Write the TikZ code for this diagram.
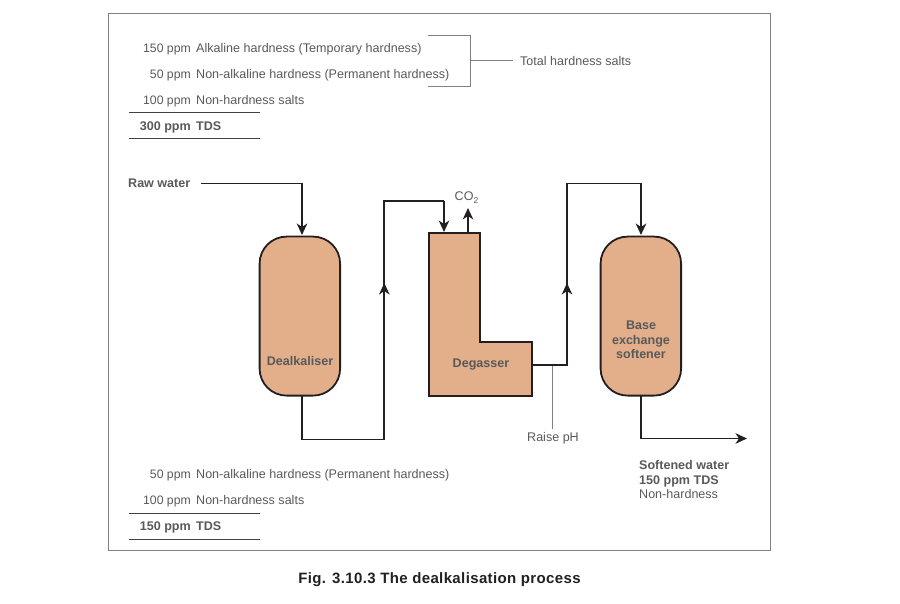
\documentclass[tikz,border=0pt]{standalone}
\usepackage{fontspec}
\setmainfont{Liberation Sans}
\usetikzlibrary{arrows.meta,calc}
\definecolor{vesselfill}{HTML}{E3AF8A}
\definecolor{inkdark}{HTML}{231F20}
\definecolor{txt}{HTML}{58595B}
\definecolor{framegray}{HTML}{808080}
\newcommand{\fsz}{\fontsize{12.55}{15}\selectfont}
\tikzset{
  lab/.style={inner sep=0pt,text=txt,font=\fsz},
  rlab/.style={lab,anchor=base east,font=\fontsize{12.25}{15}\selectfont},
  llab/.style={lab,anchor=base west},
  blab/.style={lab,font=\fsz\bfseries},
  brlab/.style={blab,anchor=base east},
  bllab/.style={blab,anchor=base west},
  vessel/.style={draw=inkdark,fill=vesselfill,line width=1.8pt,rounded corners=27pt,minimum width=80.5pt,minimum height=159pt,inner sep=0pt},
  flow/.style={draw=inkdark,line width=1.9pt,line join=miter},
  tip/.style={-{Stealth[length=11.5pt,width=10.5pt,inset=3.5pt]}},
  thin gray/.style={draw=framegray,line width=0.9pt},
  rule/.style={draw=inkdark!85!white,line width=0.8pt},
}
\begin{document}
\begin{tikzpicture}[x=1pt,y=-1pt]
\useasboundingbox (0,0) rectangle (900,604);
\node[draw=framegray,line width=1.1pt,minimum width=662pt,minimum height=536.5pt,inner sep=0pt,anchor=north west] (frame) at (108,13) {};

% top table
\node[rlab] (t1n) at (191,52.5) {150 ppm};
\node[llab] (t1t) at (196,52.5) {Alkaline hardness (Temporary hardness)};
\node[rlab] (t2n) at (191,78.5) {50 ppm};
\node[llab] (t2t) at (196,78.5) {Non-alkaline hardness (Permanent hardness)};
\node[rlab] (t3n) at (191,104.5) {100 ppm};
\node[llab] (t3t) at (196,104.5) {Non-hardness salts};
\node[brlab] (t4n) at (191,130.5) {300 ppm};
\node[bllab] (t4t) at (196,130.5) {TDS};
\coordinate (r1a) at (129,112); \coordinate (r1b) at (260,112);
\coordinate (r2a) at (129,138); \coordinate (r2b) at (260,138);
\draw[rule] (r1a) -- (r1b);
\draw[rule] (r2a) -- (r2b);

% bracket
\node[llab] (total) at (520,65.5) {Total hardness salts};
\coordinate (ba) at (428,35); \coordinate (bb) at (470,35);
\coordinate (bc) at (470,86); \coordinate (bd) at (428,86);
\coordinate (bm) at (470,60); \coordinate (be) at (513,60);
\draw[thin gray] (ba) -- (bb) -- (bc) -- (bd);
\draw[thin gray] (bm) -- (be);

% vessels
\node[vessel,anchor=north west] (dealk) at (258.7,235.7) {};
\node[vessel,anchor=north west] (soft) at (599.7,235.7) {};
\coordinate (d1) at (429,233); \coordinate (d2) at (480,233);
\coordinate (d3) at (480,342); \coordinate (d4) at (532,342);
\coordinate (d5) at (532,396); \coordinate (d6) at (429,396);
\draw[flow,fill=vesselfill] (d1) -- (d2) -- (d3) -- (d4) -- (d5) -- (d6) -- cycle;

\node[blab] (dealklab) at (300,361.5) {Dealkaliser};
\node[blab] (deglab) at (481,364.5) {Degasser};
\node[blab,align=center,font=\fontsize{12.55}{14.5}\selectfont\bfseries] (softlab) at (641,340) {Base\\exchange\\softener};

% connectors
\node[bllab] (raw) at (128,187.5) {Raw water};
\coordinate (rawstart) at (201,183.5);
\coordinate (dealkin) at (302,235);
\draw[flow,tip] (rawstart) -| (dealkin);

\coordinate (dealkout) at (302,395);
\coordinate (p1) at (302,439.5); \coordinate (p2) at (384.3,439.5);
\coordinate (p3) at (384.3,201.3); \coordinate (p4) at (444,201.3);
\coordinate (degin) at (444,232);
\coordinate (m1a) at (384.3,300); \coordinate (m1b) at (384.3,283);
\draw[flow] (dealkout) -- (p1) -- (p2) -- (p3) -- (p4);
\draw[flow,tip] (p4) -- (degin);
\draw[flow,tip] (m1a) -- (m1b);

\coordinate (co2a) at (468,233); \coordinate (co2b) at (468,208);
\draw[flow,tip] (co2a) -- (co2b);
\node[llab] (co2) at (454.5,201) {CO\raisebox{-3pt}{\fontsize{8.5}{9}\selectfont 2}};

\coordinate (q0) at (532,365); \coordinate (q1) at (567,365);
\coordinate (q2) at (567,183.5); \coordinate (q3) at (641,183.5);
\coordinate (softin) at (641,235);
\coordinate (m2a) at (567,300); \coordinate (m2b) at (567,283);
\draw[flow] (q0) -- (q1) -- (q2) -- (q3);
\draw[flow,tip] (q3) -- (softin);
\draw[flow,tip] (m2a) -- (m2b);

\coordinate (softout) at (641,395); \coordinate (s1) at (641,438.5);
\coordinate (s2) at (747,438.5);
\draw[flow,tip] (softout) -- (s1) -- (s2);

\coordinate (ph1) at (552.5,365.5); \coordinate (ph2) at (552.5,429);
\draw[thin gray] (ph1) -- (ph2);
\node[lab,anchor=base] (ph) at (553,441.5) {Raise pH};

% bottom table
\node[rlab] (b1n) at (191,478.5) {50 ppm};
\node[llab] (b1t) at (196,478.5) {Non-alkaline hardness (Permanent hardness)};
\node[rlab] (b2n) at (191,504.5) {100 ppm};
\node[llab] (b2t) at (196,504.5) {Non-hardness salts};
\node[brlab] (b3n) at (191,530.5) {150 ppm};
\node[bllab] (b3t) at (196,530.5) {TDS};
\coordinate (r3a) at (129,513); \coordinate (r3b) at (260,513);
\coordinate (r4a) at (129,539); \coordinate (r4b) at (260,539);
\draw[rule] (r3a) -- (r3b);
\draw[rule] (r4a) -- (r4b);

% softened
\node[bllab] (sw1) at (639,469) {Softened water};
\node[bllab] (sw2) at (639,484) {150 ppm TDS};
\node[llab] (sw3) at (639,498) {Non-hardness};

% caption
\node[inner sep=0pt,anchor=base,text=inkdark,font=\fontsize{15}{17}\selectfont\bfseries\addfontfeatures{LetterSpace=2.5}] (cap) at (439.5,583) {Fig. 3.10.3 The dealkalisation process};
\end{tikzpicture}
\end{document}
